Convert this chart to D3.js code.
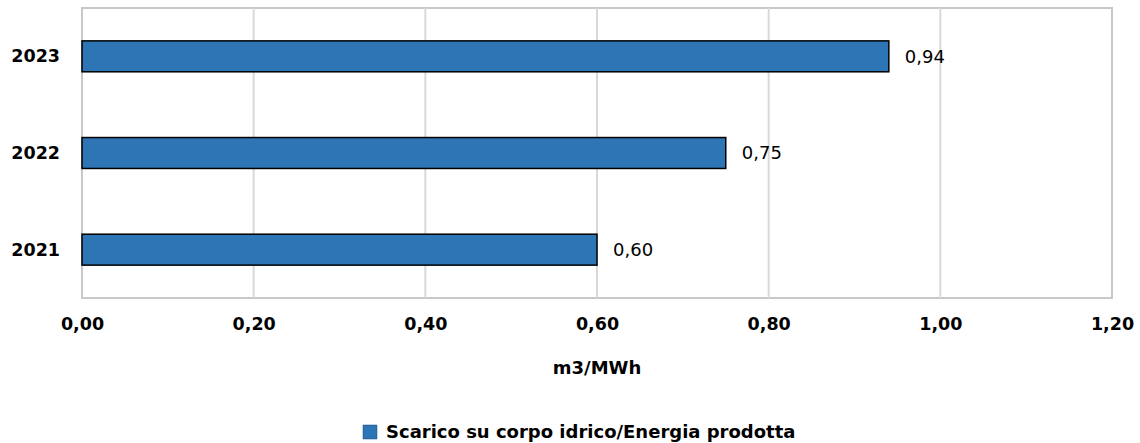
<!DOCTYPE html>
<html>
<head>
<meta charset="utf-8">
<script src="https://cdn.jsdelivr.net/npm/d3@7"></script>
<style>
  body { margin: 0; background: #fff; }
  text { font-family: "DejaVu Sans", Verdana, sans-serif; }
</style>
</head>
<body>
<svg id="chart" width="1140" height="443"></svg>
<script>
var years = ["2023", "2022", "2021"];
var values = [0.94, 0.75, 0.60];
var xTicks = [0, 0.2, 0.4, 0.6, 0.8, 1.0, 1.2];
var seriesName = "Scarico su corpo idrico/Energia prodotta";
var axisTitle = "m3/MWh";

(function() {
  var svg = d3.select("#chart");
  var pLeft = 82, pRight = 1112, pTop = 8, pBottom = 298;
  var fmt = function(v) { return d3.format(".2f")(v).replace(".", ","); };

  var x = d3.scaleLinear().domain([0, 1.2]).range([pLeft, pRight]);
  var y = d3.scaleBand().domain(years).range([pTop, pBottom])
    .paddingInner(0.68).paddingOuter(0.34);

  // plot frame
  svg.append("rect")
    .attr("x", pLeft).attr("y", pTop)
    .attr("width", pRight - pLeft).attr("height", pBottom - pTop)
    .attr("fill", "none").attr("stroke", "#c8c8c8").attr("stroke-width", 2);

  // gridlines
  svg.selectAll("line.grid")
    .data(xTicks.slice(1, -1))
    .enter().append("line")
    .attr("class", "grid")
    .attr("x1", function(d) { return x(d); })
    .attr("x2", function(d) { return x(d); })
    .attr("y1", pTop).attr("y2", pBottom)
    .attr("stroke", "#d9d9d9").attr("stroke-width", 2);

  // bars
  svg.selectAll("rect.bar")
    .data(values)
    .enter().append("rect")
    .attr("class", "bar")
    .attr("x", x(0))
    .attr("y", function(d, i) { return y(years[i]); })
    .attr("width", function(d) { return x(d) - x(0); })
    .attr("height", y.bandwidth())
    .attr("fill", "#2e75b6")
    .attr("stroke", "#000").attr("stroke-width", 1.5);

  // value labels
  svg.selectAll("text.val")
    .data(values)
    .enter().append("text")
    .attr("class", "val")
    .attr("x", function(d) { return x(d) + 16; })
    .attr("y", function(d, i) { return y(years[i]) + y.bandwidth() / 2; })
    .attr("dy", "0.35em")
    .attr("font-size", 18)
    .attr("fill", "#000")
    .text(fmt);

  // y axis labels
  svg.selectAll("text.year")
    .data(years)
    .enter().append("text")
    .attr("class", "year")
    .attr("x", 60)
    .attr("y", function(d) { return y(d) + y.bandwidth() / 2; })
    .attr("dy", "0.35em")
    .attr("text-anchor", "end")
    .attr("font-size", 17.5).attr("font-weight", "bold")
    .text(function(d) { return d; });

  // x axis labels
  var xAxis = d3.axisBottom(x).tickValues(xTicks).tickFormat(fmt).tickSize(0).tickPadding(20);
  var gx = svg.append("g").attr("transform", "translate(0," + pBottom + ")").call(xAxis);
  gx.select(".domain").remove();
  gx.selectAll("text")
    .attr("font-size", 17.5).attr("font-weight", "bold").attr("fill", "#000")
    .style("font-family", "'DejaVu Sans', Verdana, sans-serif");

  // axis title
  svg.append("text")
    .attr("x", (pLeft + pRight) / 2).attr("y", 374)
    .attr("text-anchor", "middle")
    .attr("font-size", 18).attr("font-weight", "bold")
    .text(axisTitle);

  // legend
  var lg = svg.append("g").attr("transform", "translate(363,425)");
  lg.append("rect").attr("width", 14).attr("height", 14)
    .attr("fill", "#2e75b6").attr("stroke", "#1f4e79").attr("stroke-width", 0.5);
  lg.append("text").attr("x", 23).attr("y", 7).attr("dy", "0.35em")
    .attr("font-size", 18).attr("font-weight", "bold")
    .text(seriesName);
})();
</script>
</body>
</html>
